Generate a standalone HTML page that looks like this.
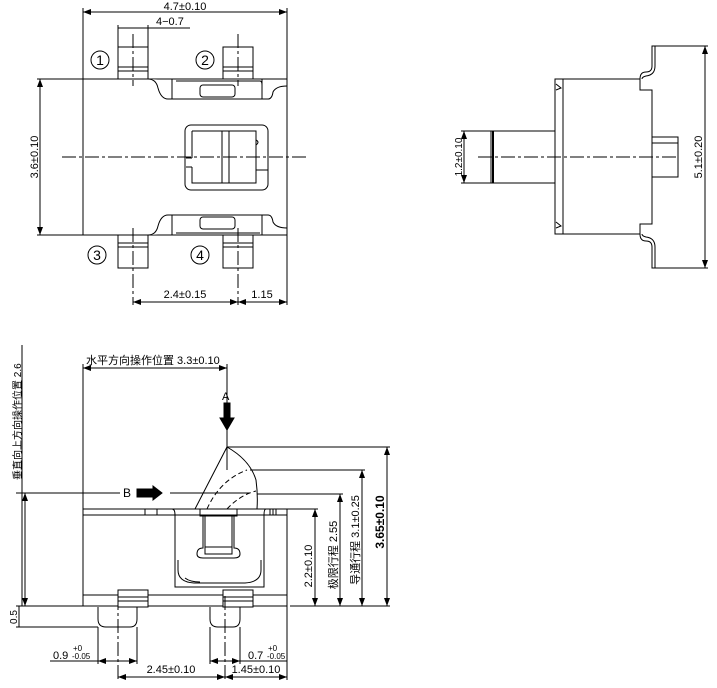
<!DOCTYPE html>
<html><head><meta charset="utf-8"><style>
html,body{margin:0;padding:0;background:#fff;}
svg{display:block;}
text{font-family:"Liberation Sans","Noto Sans CJK SC",sans-serif;fill:#000;}
</style></head><body>
<svg width="717" height="688" viewBox="0 0 717 688" xmlns="http://www.w3.org/2000/svg" stroke="#000" fill="none" stroke-width="1">
<defs>
<marker id="a" markerWidth="8" markerHeight="6" refX="8" refY="3" orient="auto-start-reverse" markerUnits="userSpaceOnUse"><path d="M0,0 L8,3 L0,6" fill="#000" stroke="none"/></marker>
</defs>
<!-- ===== TOP VIEW ===== -->
<rect x="83" y="79" width="204" height="156"/>
<!-- top notch -->
<path d="M148,79 Q156,79 158,88 Q161,99 168,99 L268,99 Q272,99 273,92 Q276,86 287,86" fill="#fff"/>
<line x1="172" y1="79" x2="172" y2="99"/><line x1="262" y1="79" x2="262" y2="99"/>
<path d="M176,81 L260,81 Q262,81 262,85 L262,89"/>
<rect x="200" y="85" width="35" height="12" rx="3"/>
<!-- bottom notch -->
<path d="M148,235 Q156,235 158,226 Q161,215 168,215 L268,215 Q272,215 273,222 Q276,228 287,228" fill="#fff"/>
<line x1="172" y1="215" x2="172" y2="235"/><line x1="262" y1="215" x2="262" y2="235"/>
<path d="M176,233 L260,233"/>
<rect x="200" y="217" width="35" height="12" rx="3"/>
<!-- pins -->
<g fill="#fff">
<rect x="118" y="47" width="30" height="32"/><rect x="223" y="47" width="30" height="32"/>
<rect x="118" y="235" width="30" height="33"/><rect x="223" y="235" width="30" height="33"/>
</g>
<line x1="118" y1="67" x2="148" y2="67"/><line x1="118" y1="71" x2="148" y2="71"/>
<line x1="223" y1="67" x2="253" y2="67"/><line x1="223" y1="71" x2="253" y2="71"/>
<line x1="118" y1="243" x2="148" y2="243"/><line x1="118" y1="247" x2="148" y2="247"/>
<line x1="223" y1="243" x2="253" y2="243"/><line x1="223" y1="247" x2="253" y2="247"/>
<!-- window -->
<rect x="185" y="125" width="83" height="65" rx="6"/>
<path d="M192,131 L256,131 L256,183 L199,183 M192,131 L192,158 M192,167 L192,183 L199,183 M186,158 L192,158 M186,167 L192,167"/>
<line x1="222" y1="131" x2="222" y2="183"/><line x1="229" y1="131" x2="229" y2="183"/>
<path d="M256,140 Q260,142 256,145 M256,170 L268,170"/>
<!-- centerlines -->
<g stroke-dasharray="14,3,3,3">
<line x1="62" y1="157" x2="308" y2="157"/>
<line x1="133" y1="34" x2="133" y2="86"/><line x1="238" y1="34" x2="238" y2="86"/>
<line x1="133" y1="228" x2="133" y2="305"/><line x1="238" y1="228" x2="238" y2="305"/>
</g>
<!-- dims top view -->
<line x1="83" y1="79" x2="83" y2="8"/><line x1="287" y1="79" x2="287" y2="8"/>
<line x1="83" y1="12" x2="287" y2="12" marker-start="url(#a)" marker-end="url(#a)"/>
<text x="185" y="10" font-size="11" text-anchor="middle" stroke="none">4.7±0.10</text>
<line x1="118" y1="47" x2="118" y2="25"/><line x1="148" y1="47" x2="148" y2="25"/>
<line x1="118" y1="28" x2="190" y2="28"/>
<text x="156" y="25" font-size="11" stroke="none">4−0.7</text>
<line x1="83" y1="79" x2="37" y2="79"/><line x1="83" y1="235" x2="37" y2="235"/>
<line x1="40" y1="79" x2="40" y2="235" marker-start="url(#a)" marker-end="url(#a)"/>
<text transform="translate(38,157) rotate(-90)" font-size="11" text-anchor="middle" stroke="none">3.6±0.10</text>
<line x1="287" y1="235" x2="287" y2="305"/>
<line x1="133" y1="302" x2="238" y2="302" marker-start="url(#a)" marker-end="url(#a)"/>
<line x1="238" y1="302" x2="287" y2="302" marker-start="url(#a)" marker-end="url(#a)"/>
<text x="185" y="298" font-size="11" text-anchor="middle" stroke="none">2.4±0.15</text>
<text x="262" y="298" font-size="11" text-anchor="middle" stroke="none">1.15</text>
<g font-size="14" stroke="none" font-family="Liberation Serif,serif">
<circle cx="100" cy="60" r="9" stroke="#000" fill="none"/><text x="100" y="65" text-anchor="middle">1</text>
<circle cx="205" cy="60" r="9" stroke="#000" fill="none"/><text x="205" y="65" text-anchor="middle">2</text>
<circle cx="97" cy="255" r="9" stroke="#000" fill="none"/><text x="97" y="260" text-anchor="middle">3</text>
<circle cx="200" cy="255" r="9" stroke="#000" fill="none"/><text x="200" y="260" text-anchor="middle">4</text>
</g>
<!-- ===== SIDE VIEW ===== -->
<rect x="491" y="131" width="64" height="52"/>
<line x1="493" y1="131" x2="493" y2="183" stroke-width="2"/>
<rect x="555" y="79" width="8" height="155"/>
<path d="M556,90 L561,88 L556,84 M556,222 L561,226 L556,228"/>
<path d="M563,79 L640,79 L640,90 L652,90 L652,224 L640,224 L640,234 L563,234"/>
<path d="M640,79 Q640,72 646,72 Q652,72 652,66 L652,46 L655,46 L655,66 Q655,75 646,76 Q642,77 642,79"/>
<path d="M640,234 Q640,241 646,241 Q652,241 652,247 L652,268 L655,268 L655,247 Q655,238 646,237 Q642,236 642,234"/>
<rect x="652" y="137" width="26" height="40"/>
<line x1="652" y1="143" x2="678" y2="143"/>
<line x1="478" y1="157" x2="678" y2="157" stroke-dasharray="14,3,3,3"/>
<line x1="491" y1="131" x2="461" y2="131"/><line x1="491" y1="183" x2="461" y2="183"/>
<line x1="464" y1="131" x2="464" y2="183" marker-start="url(#a)" marker-end="url(#a)"/>
<text transform="translate(462,157) rotate(-90)" font-size="10" text-anchor="middle" stroke="none">1.2±0.10</text>
<line x1="655" y1="46" x2="708" y2="46"/><line x1="655" y1="268" x2="708" y2="268"/>
<line x1="705" y1="46" x2="705" y2="268" marker-start="url(#a)" marker-end="url(#a)"/>
<text transform="translate(702,157) rotate(-90)" font-size="11" text-anchor="middle" stroke="none">5.1±0.20</text>
<!-- ===== FRONT VIEW ===== -->
<rect x="83" y="509" width="204" height="97"/>
<line x1="83" y1="515" x2="287" y2="515"/>
<line x1="83" y1="595" x2="287" y2="595"/>
<line x1="145" y1="509" x2="145" y2="515"/><line x1="157" y1="509" x2="157" y2="515"/>
<line x1="270" y1="509" x2="270" y2="515"/><line x1="273" y1="509" x2="273" y2="515"/><line x1="276" y1="509" x2="276" y2="515"/>
<path d="M166,509 L172,509 Q175,509 175,515 L175,587 L264,587 L264,515 Q264,509 266,509"/>
<path d="M178,560 L178,570 Q178,582 194,583 L245,583 Q261,582 261,570 L261,560"/>
<path d="M185,578 Q190,582 200,582" />
<rect x="200" y="509" width="37" height="7"/>
<path d="M203,516 L203,548 Q197,548 197,554 Q197,558 203,558 L234,558 Q240,558 240,554 Q240,548 234,548 L234,516"/>
<rect x="205" y="516" width="27" height="38"/>
<line x1="205" y1="547" x2="232" y2="547"/>
<!-- actuator -->
<path d="M195,509 L227,447 Q250,460 256,480 Q258,495 257,509"/>
<g stroke-dasharray="5,3"><path d="M207,509 Q220,480 247,470"/><path d="M227,509 Q240,495 256,491"/></g>
<line x1="227" y1="447" x2="227" y2="470"/>
<!-- bottom pins -->
<g fill="#fff">
<rect x="118" y="590" width="30" height="17"/><rect x="223" y="590" width="30" height="17"/>
</g>
<line x1="118" y1="597" x2="148" y2="597"/><line x1="118" y1="601" x2="148" y2="601"/>
<line x1="223" y1="597" x2="253" y2="597"/><line x1="223" y1="601" x2="253" y2="601"/>
<path d="M98,607 L98,619 Q98,627 106,627 L130,627 Q137,627 137,619 L137,607"/>
<path d="M210,607 L210,619 Q210,627 218,627 L233,627 Q240,627 240,619 L240,607"/>
<g stroke-dasharray="14,3,3,3">
<line x1="118" y1="596" x2="118" y2="680"/><line x1="225" y1="596" x2="225" y2="680"/>
</g>
<!-- front dims -->
<line x1="83" y1="509" x2="83" y2="364"/>
<line x1="227" y1="447" x2="227" y2="364"/>
<line x1="83" y1="368" x2="227" y2="368" marker-start="url(#a)" marker-end="url(#a)"/>
<text x="86" y="364" font-size="11" stroke="none">水平方向操作位置  3.3±0.10</text>
<text x="222" y="400" font-size="11" stroke="none" font-family="Liberation Serif,serif">A</text>
<path d="M224,403 L230,403 L230,418 L234,418 L227,430 L220,418 L224,418 Z" fill="#000"/>
<line x1="22" y1="345" x2="22" y2="606"/>
<line x1="16" y1="493" x2="120" y2="493"/>
<line x1="25" y1="493" x2="25" y2="606" marker-start="url(#a)" marker-end="url(#a)"/>
<line x1="170" y1="493" x2="250" y2="493"/>
<text x="123" y="497" font-size="12" stroke="none" font-family="Liberation Serif,serif">B</text>
<path d="M137,489 L153,489 L153,486 L162,493 L153,500 L153,497 L137,497 Z" fill="#000"/>
<text transform="translate(21,480) rotate(-90)" font-size="10" stroke="none">垂直向上方向操作位置  2.6</text>
<line x1="16" y1="606" x2="83" y2="606"/>
<line x1="16" y1="627" x2="98" y2="627"/>
<line x1="19" y1="606" x2="19" y2="627"/>
<text transform="translate(17,617) rotate(-90)" font-size="10" text-anchor="middle" stroke="none">0.5</text>
<line x1="98" y1="627" x2="98" y2="664"/><line x1="137" y1="627" x2="137" y2="664"/>
<line x1="50" y1="661" x2="137" y2="661"/>
<line x1="98" y1="661" x2="137" y2="661" marker-start="url(#a)" marker-end="url(#a)"/>
<text x="53" y="659" font-size="11" stroke="none">0.9</text><text x="73" y="651" font-size="8" stroke="none">+0</text><text x="72" y="659" font-size="8" stroke="none">-0.05</text>
<line x1="210" y1="627" x2="210" y2="664"/><line x1="240" y1="627" x2="240" y2="664"/>
<line x1="210" y1="661" x2="287" y2="661"/>
<line x1="210" y1="661" x2="240" y2="661" marker-start="url(#a)" marker-end="url(#a)"/>
<text x="248" y="659" font-size="11" stroke="none">0.7</text><text x="268" y="651" font-size="8" stroke="none">+0</text><text x="267" y="659" font-size="8" stroke="none">-0.05</text>
<line x1="287" y1="606" x2="287" y2="680"/>
<line x1="118" y1="677" x2="225" y2="677" marker-start="url(#a)" marker-end="url(#a)"/>
<line x1="225" y1="677" x2="287" y2="677" marker-start="url(#a)" marker-end="url(#a)"/>
<text x="171" y="673" font-size="11" text-anchor="middle" stroke="none">2.45±0.10</text>
<text x="256" y="673" font-size="11" text-anchor="middle" stroke="none">1.45±0.10</text>
<!-- right vertical dims -->
<line x1="290" y1="606" x2="390" y2="606"/>
<line x1="287" y1="509" x2="318" y2="509"/>
<line x1="257" y1="494" x2="343" y2="494"/>
<line x1="250" y1="470" x2="365" y2="470"/>
<line x1="227" y1="447" x2="390" y2="447"/>
<line x1="315" y1="509" x2="315" y2="606" marker-start="url(#a)" marker-end="url(#a)"/>
<line x1="340" y1="494" x2="340" y2="606" marker-start="url(#a)" marker-end="url(#a)"/>
<line x1="362" y1="470" x2="362" y2="606" marker-start="url(#a)" marker-end="url(#a)"/>
<line x1="387" y1="447" x2="387" y2="606" marker-start="url(#a)" marker-end="url(#a)"/>
<text transform="translate(312,566) rotate(-90)" font-size="11" text-anchor="middle" stroke="none">2.2±0.10</text>
<text transform="translate(337,555) rotate(-90)" font-size="11" text-anchor="middle" stroke="none">极限行程  2.55</text>
<text transform="translate(359,540) rotate(-90)" font-size="11" text-anchor="middle" stroke="none">导通行程  3.1±0.25</text>
<text transform="translate(384,522) rotate(-90)" font-size="12" font-weight="bold" text-anchor="middle" stroke="none">3.65±0.10</text>
</svg>
</body></html>
